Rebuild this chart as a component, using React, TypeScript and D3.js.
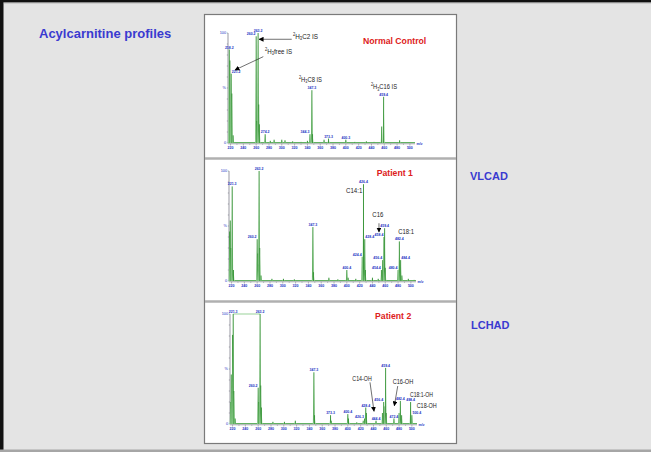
import * as d3 from "d3";

// m/z tick labels shared by the three spectra
const mzTicks = [220, 240, 260, 280, 300, 320, 340, 360, 380, 400, 420, 440, 460, 480, 500];

type Peak = { mz: number; pct: number; label?: string };

// Normal control
const normalPeaks: Peak[] = [
  { mz: 218, pct: 85, label: "218.2" }, { mz: 219, pct: 75 }, { mz: 221, pct: 63, label: "221.2" },
  { mz: 222, pct: 45 }, { mz: 224, pct: 7 },
  { mz: 260, pct: 97, label: "260.2" }, { mz: 261, pct: 20 }, { mz: 263, pct: 100, label: "263.2" },
  { mz: 264, pct: 35 }, { mz: 265, pct: 17 },
  { mz: 274, pct: 8, label: "274.2" }, { mz: 282, pct: 2 }, { mz: 288, pct: 3 }, { mz: 300, pct: 3 },
  { mz: 305, pct: 2.5 }, { mz: 317, pct: 1.5 }, { mz: 330, pct: 1 }, { mz: 340, pct: 2 },
  { mz: 344, pct: 8, label: "344.3" }, { mz: 347, pct: 48, label: "347.3" }, { mz: 348, pct: 8 },
  { mz: 366, pct: 3 }, { mz: 373, pct: 4, label: "373.3" }, { mz: 400, pct: 3, label: "400.3" },
  { mz: 414, pct: 1 }, { mz: 432, pct: 1.5 }, { mz: 444, pct: 1 },
  { mz: 456, pct: 15 }, { mz: 459, pct: 42, label: "459.4" }, { mz: 484, pct: 2.5 },
];

// Patient 1 (VLCAD)
const patient1Peaks: Peak[] = [
  { mz: 217, pct: 45 }, { mz: 218, pct: 55 }, { mz: 219, pct: 30 }, { mz: 221, pct: 86, label: "221.3" },
  { mz: 223, pct: 10 },
  { mz: 260, pct: 38, label: "260.2" }, { mz: 261, pct: 25 }, { mz: 262, pct: 15 },
  { mz: 263, pct: 100, label: "263.2" }, { mz: 264, pct: 30 }, { mz: 266, pct: 5 },
  { mz: 283, pct: 2 }, { mz: 301, pct: 2 }, { mz: 318, pct: 1.5 },
  { mz: 347, pct: 49, label: "347.3" }, { mz: 348, pct: 8 },
  { mz: 372, pct: 3 }, { mz: 386, pct: 1.5 }, { mz: 400, pct: 10, label: "400.4" }, { mz: 402, pct: 3 },
  { mz: 414, pct: 2 },
  { mz: 424, pct: 22, label: "424.4" }, { mz: 426, pct: 88, label: "426.4" }, { mz: 428, pct: 38, label: "428.4" },
  { mz: 429, pct: 10 }, { mz: 440, pct: 3 }, { mz: 449, pct: 2 },
  { mz: 454, pct: 10, label: "454.4" }, { mz: 456, pct: 19, label: "456.4" }, { mz: 458, pct: 40, label: "458.4" },
  { mz: 459, pct: 48, label: "459.4" }, { mz: 460, pct: 12 },
  { mz: 480, pct: 10, label: "480.4" }, { mz: 482, pct: 36, label: "482.4" }, { mz: 484, pct: 19, label: "484.4" },
  { mz: 486, pct: 5 }, { mz: 496, pct: 2 }, { mz: 505, pct: 1 },
];

// Patient 2 (LCHAD)
const patient2Peaks: Peak[] = [
  { mz: 217, pct: 20 }, { mz: 218, pct: 45 }, { mz: 220, pct: 81 }, { mz: 221, pct: 100, label: "221.3" },
  { mz: 222, pct: 30 }, { mz: 224, pct: 5 },
  { mz: 260, pct: 33, label: "260.2" }, { mz: 261, pct: 20 }, { mz: 263, pct: 100, label: "263.2" },
  { mz: 264, pct: 35 }, { mz: 265, pct: 15 },
  { mz: 283, pct: 2 }, { mz: 301, pct: 2 }, { mz: 318, pct: 3 },
  { mz: 347, pct: 47, label: "347.3" }, { mz: 348, pct: 8 },
  { mz: 373, pct: 8, label: "373.3" }, { mz: 374, pct: 3 },
  { mz: 400, pct: 9, label: "400.4" }, { mz: 401, pct: 5 },
  { mz: 414, pct: 1.5 }, { mz: 424, pct: 3 }, { mz: 426, pct: 5, label: "426.3" },
  { mz: 428, pct: 15, label: "428.4" }, { mz: 429, pct: 10 },
  { mz: 444, pct: 3, label: "444.4" },
  { mz: 454, pct: 10 }, { mz: 456, pct: 20, label: "456.4" }, { mz: 458, pct: 16 },
  { mz: 459, pct: 51, label: "459.4" }, { mz: 460, pct: 10 },
  { mz: 472, pct: 5, label: "472.4" },
  { mz: 480, pct: 10 }, { mz: 482, pct: 21, label: "482.4" }, { mz: 484, pct: 8 },
  { mz: 498, pct: 20, label: "498.4" }, { mz: 500, pct: 8, label: "500.4" },
];
// saturated peaks joined across the top in patient 2
const patient2Clipped = [221, 263];

const FONT = "'Liberation Sans', Arial, Helvetica, sans-serif";
const BLUE = "#3a3ad0";
const TINY = "#2233c4";
const RED = "#dd2020";

type Scales = { x: d3.ScaleLinear<number, number>; y: d3.ScaleLinear<number, number> };

const labelAnchor = (p: Peak, peaks: Peak[]) => {
  const near = peaks.filter((q) => q !== p && q.label && Math.abs(q.mz - p.mz) <= 6 && q.pct > p.pct);
  if (near.some((q) => q.mz > p.mz)) return "end";
  if (near.some((q) => q.mz < p.mz)) return "start";
  return "middle";
};

function Spectrum({
  peaks, x0, top, base, clipped, children,
}: {
  peaks: Peak[]; x0: number; top: number; base: number; clipped?: number[];
  children?: (s: Scales) => any;
}) {
  const x = d3.scaleLinear().domain([216, 508]).range([x0, x0 + 187]);
  const y = d3.scaleLinear().domain([0, 100]).range([base, top]);
  const tri = d3.line<[number, number]>().x((d) => x(d[0])).y((d) => y(d[1]));
  const minor = d3.range(220, 506, 10);
  const yMinor = d3.range(0, 101, 10);

  return (
    <g fontFamily={FONT}>
      {/* y axis */}
      <line x1={x0} x2={x0} y1={y(100)} y2={y(0)} stroke="#556" strokeWidth={0.6} />
      {yMinor.map((t) => (
        <line key={t} x1={x0 - 1.2} x2={x0} y1={y(t)} y2={y(t)} stroke="#556" strokeWidth={0.4} />
      ))}
      <text x={x0 - 2} y={y(100) + 1.2} fontSize={3.8} fill={TINY} textAnchor="end">100</text>
      <text x={x0 - 2} y={y(50) + 1.2} fontSize={3.8} fill={TINY} textAnchor="end">%</text>
      <text x={x0 - 2} y={y(0) + 1.2} fontSize={3.8} fill={TINY} textAnchor="end">0</text>

      {/* x axis */}
      <line x1={x0} x2={x0 + 187} y1={y(0) + 0.8} y2={y(0) + 0.8} stroke="#556" strokeWidth={0.5} />
      {minor.map((t) => (
        <line key={t} x1={x(t)} x2={x(t)} y1={y(0) + 0.8} y2={y(0) + (t % 20 === 0 ? 2.6 : 1.8)} stroke="#556" strokeWidth={0.4} />
      ))}
      {mzTicks.map((t) => (
        <text key={t} x={x(t)} y={y(0) + 5.6} fontSize={3.6} fill={TINY} textAnchor="middle" fontWeight="bold">{t}</text>
      ))}
      <text x={x0 + 188.5} y={y(0) + 1.5} fontSize={3.6} fill={TINY} fontWeight="bold">m/z</text>

      {/* trace */}
      <line x1={x0} x2={x0 + 187} y1={y(0) - 0.4} y2={y(0) - 0.4} stroke="#3f9f3f" strokeWidth={0.9} />
      {clipped && (
        <path d={tri(clipped.map((m) => [m, 100] as [number, number])) || ""} stroke="#6fbf6f" strokeWidth={0.7} fill="none" />
      )}
      {peaks.map((p, i) => (
        <g key={i}>
          <path d={tri([[p.mz - 1.7, 0], [p.mz, p.pct], [p.mz + 1.7, 0]]) || ""} fill="#a5d9a5" />
          <line x1={x(p.mz)} x2={x(p.mz)} y1={y(0)} y2={y(p.pct)} stroke="#2f8f2f" strokeWidth={0.9} />
        </g>
      ))}
      {peaks.filter((p) => p.label).map((p, i) => {
        const a = labelAnchor(p, peaks);
        const dx = a === "end" ? -0.6 : a === "start" ? 0.6 : 0;
        return (
          <text key={i} x={x(p.mz) + dx} y={y(p.pct) - 1} fontSize={3.5} fill={TINY} textAnchor={a} fontWeight="bold">
            {p.label}
          </text>
        );
      })}
      {children && children({ x, y })}
    </g>
  );
}

const IsoLabel = ({ x, y, rest, w }: { x: number; y: number; rest: string; w: number }) => (
  <text x={x} y={y} fontSize={7} fill="#222" fontFamily={FONT} textLength={w} lengthAdjust="spacingAndGlyphs">
    <tspan fontSize={4.5} dy={-3}>2</tspan>
    <tspan dy={3}>H</tspan>
    <tspan fontSize={4.5} dy={1.5}>3</tspan>
    <tspan dy={-1.5}>{rest}</tspan>
  </text>
);

const Note = ({ x, y, text, w }: { x: number; y: number; text: string; w: number }) => (
  <text x={x} y={y} fontSize={7} fill="#222" fontFamily={FONT} textLength={w} lengthAdjust="spacingAndGlyphs">
    {text}
  </text>
);

const Arrow = ({ x1, y1, x2, y2 }: { x1: number; y1: number; x2: number; y2: number }) => (
  <line x1={x1} y1={y1} x2={x2} y2={y2} stroke="#111" strokeWidth={0.6} markerEnd="url(#ah)" />
);

export default function App() {
  return (
    <svg width={651} height={452} style={{ position: "absolute", left: 0, top: 0 }}>
      <defs>
        <marker id="ah" viewBox="0 0 10 10" refX="9" refY="5" markerWidth="5" markerHeight="5"
          markerUnits="userSpaceOnUse" orient="auto">
          <path d="M0,0L10,5L0,10z" fill="#000" />
        </marker>
      </defs>
      <rect x={0} y={0} width={651} height={452} fill="#e4e4e4" />
      <rect x={0} y={0} width={3.5} height={452} fill="#111" />
      <rect x={0} y={0} width={651} height={2.5} fill="#111" />
      <rect x={3.5} y={2.5} width={647.5} height={0.8} fill="#999" />
      <rect x={0} y={449.5} width={651} height={2.5} fill="#a6a6a6" />

      <text x={39} y={38} fontFamily={FONT} fontWeight="bold" fontSize={13} fill={BLUE}>Acylcarnitine profiles</text>
      <text x={470} y={180} fontFamily={FONT} fontWeight="bold" fontSize={11} fill={BLUE}>VLCAD</text>
      <text x={471} y={329.3} fontFamily={FONT} fontWeight="bold" fontSize={11} fill={BLUE}>LCHAD</text>

      {/* slide panel */}
      <rect x={204.5} y={14.5} width={252} height={429} fill="#fff" stroke="#7a7a7a" strokeWidth={1.2} />
      <line x1={205} x2={456} y1={158.5} y2={158.5} stroke="#b0b0b0" strokeWidth={2.5} />
      <line x1={205} x2={456} y1={301.5} y2={301.5} stroke="#b0b0b0" strokeWidth={2.5} />

      <Spectrum peaks={normalPeaks} x0={228} top={33} base={143}>
        {({ x, y }) => (
          <g>
            <text x={363} y={43.5} fontFamily={FONT} fontWeight="bold" fontSize={8.7} fill={RED}>Normal Control</text>
            <IsoLabel x={x(317.5)} y={y(95)} rest="C2 IS" w={25} />
            <Arrow x1={x(315.5)} y1={y(94.3)} x2={x(264.5)} y2={y(94.3)} />
            <IsoLabel x={x(273.8)} y={y(81)} rest="free IS" w={27} />
            <Arrow x1={x(271.1)} y1={y(78.5)} x2={x(226.9)} y2={y(66.4)} />
            <IsoLabel x={x(326.9)} y={y(55.5)} rest="C8 IS" w={23} />
            <IsoLabel x={x(439.3)} y={y(49)} rest="C16 IS" w={26} />
          </g>
        )}
      </Spectrum>

      <Spectrum peaks={patient1Peaks} x0={229} top={171} base={281}>
        {({ x, y }) => (
          <g>
            <text x={376.7} y={176} fontFamily={FONT} fontWeight="bold" fontSize={8.7} fill={RED}>Patient 1</text>
            <Note x={x(398.7)} y={y(80)} text="C14:1" w={16.3} />
            <Note x={x(439.8)} y={y(58.2)} text="C16" w={11} />
            <Arrow x1={x(450.2)} y1={y(52.5)} x2={x(450.2)} y2={y(44.5)} />
            <Note x={x(480.4)} y={y(42.3)} text="C18:1" w={15.7} />
          </g>
        )}
      </Spectrum>

      <Spectrum peaks={patient2Peaks} x0={230} top={314} base={424} clipped={patient2Clipped}>
        {({ x, y }) => (
          <g>
            <text x={375} y={319} fontFamily={FONT} fontWeight="bold" fontSize={8.7} fill={RED}>Patient 2</text>
            <Note x={x(407)} y={y(39.5)} text="C14-OH" w={19.4} />
            <Arrow x1={x(434.6)} y1={y(37.9)} x2={x(440.9)} y2={y(11.5)} />
            <Note x={x(470)} y={y(36.4)} text="C16-OH" w={20.6} />
            <Arrow x1={x(477.9)} y1={y(34.5)} x2={x(472.6)} y2={y(16.5)} />
            <Note x={x(497)} y={y(25)} text="C18:1-OH" w={23} />
            <Note x={x(507.5)} y={y(14.1)} text="C18-OH" w={20} />
          </g>
        )}
      </Spectrum>
    </svg>
  );
}
